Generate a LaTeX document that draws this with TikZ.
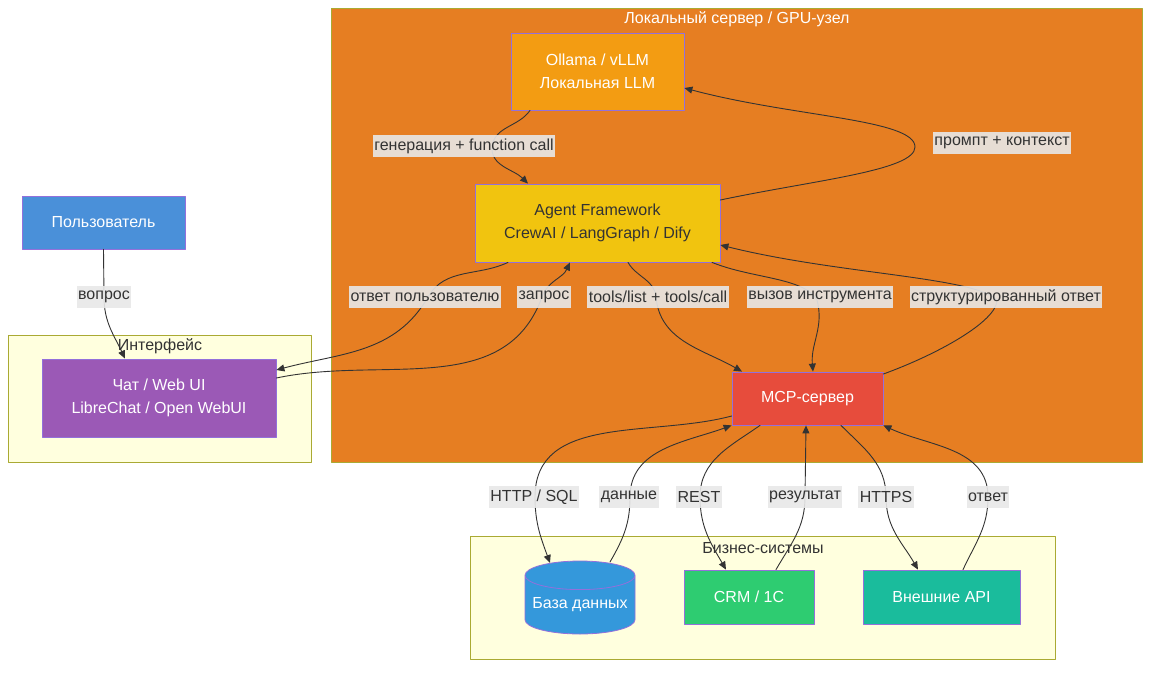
\documentclass[tikz,border=0pt]{standalone}
\usepackage{fontspec}
\setmainfont{Liberation Sans}
\usetikzlibrary{arrows.meta,shapes.geometric}

\definecolor{srvorange}{HTML}{E67E22}
\definecolor{grpyellow}{HTML}{FFFFDE}
\definecolor{grpborder}{HTML}{AAAA33}
\definecolor{nodeborder}{HTML}{9370DB}
\definecolor{darktext}{HTML}{333333}
\definecolor{labelbg}{HTML}{E8E8E8}
\definecolor{ollamaC}{HTML}{F39C12}
\definecolor{agentC}{HTML}{F1C40F}
\definecolor{userC}{HTML}{4A90D9}
\definecolor{chatC}{HTML}{9B59B6}
\definecolor{mcpC}{HTML}{E74C3C}
\definecolor{dbC}{HTML}{3498DB}
\definecolor{crmC}{HTML}{2ECC71}
\definecolor{apiC}{HTML}{1ABC9C}

\begin{document}
\begin{tikzpicture}[x=1pt,y=1pt,line cap=round,line join=round,
  every node/.style={font=\fontsize{16}{23}\selectfont},
  box/.style={draw=nodeborder,line width=0.8pt,align=center,inner sep=0pt},
  grp/.style={draw=grpborder,line width=0.8pt},
  elabel/.style={fill=labelbg,fill opacity=0.9,text opacity=1,text=darktext,
    inner xsep=1.5pt,inner ysep=0pt,minimum height=22pt},
  flow/.style={draw=darktext,line width=0.9pt,-{Triangle[length=8pt,width=7pt]}}]
  \useasboundingbox (0,0) rectangle (1158,-672);

  % groups
  \draw[grp,fill=srvorange] (331,-8) rectangle (1142,-462);
  \node[text=white] (tsrv) at (737,-19) {Локальный сервер / GPU-узел};
  \draw[grp,fill=grpyellow] (8,-335) rectangle (311,-462);
  \draw[grp,fill=grpyellow] (470,-536) rectangle (1055,-659);

  % nodes
  \node[box,fill=ollamaC,text=white,minimum width=173,minimum height=77] (ollama) at (597.5,-71.5) {Ollama / vLLM\\Локальная LLM};
  \node[box,fill=agentC,text=darktext,minimum width=245,minimum height=78] (agent) at (597.5,-223) {Agent Framework\\CrewAI / LangGraph / Dify};
  \node[box,fill=userC,text=white,minimum width=163,minimum height=53] (user) at (103.5,-222.5) {Пользователь};
  \node[box,fill=chatC,text=white,minimum width=234,minimum height=78] (chat) at (159,-398) {Чат / Web UI\\LibreChat / Open WebUI};
  \node[box,fill=mcpC,text=white,minimum width=151,minimum height=53] (mcp) at (807.5,-398.5) {MCP-сервер};
  \node[box,cylinder,shape border rotate=90,aspect=0.3,fill=dbC,text=white,minimum width=110,minimum height=73,anchor=shape center] (db) at (580,-597.5) {База данных};
  \node[box,fill=crmC,text=white,minimum width=130,minimum height=54] (crm) at (749,-597) {CRM / 1C};
  \node[box,fill=apiC,text=white,minimum width=157,minimum height=54] (api) at (941.5,-597) {Внешние API};

  % label points
  \coordinate (cq) at (104,-297);   \coordinate (cans) at (428,-297);
  \coordinate (creq) at (542,-297); \coordinate (ctools) at (656,-297);
  \coordinate (ccall) at (817,-300); \coordinate (cstruct) at (997,-300);
  \coordinate (cgen) at (492,-146); \coordinate (cbend) at (915,-147);
  \coordinate (chttp) at (535,-497); \coordinate (cdata) at (630,-497);
  \coordinate (crest) at (700,-497); \coordinate (cres) at (805,-497);
  \coordinate (chttps) at (886,-497); \coordinate (cansw) at (988,-497);

  % connectors
  \draw[flow] (user.south) -- (cq) to[out=-90,in=115] ([xshift=-34]chat.north);
  \draw[flow] ([yshift=20]chat.east) to[out=12,in=-110] (creq) to[out=70,in=-115] ([xshift=-27.5]agent.south);
  \draw[flow] ([xshift=-89.5]agent.south) to[out=-155,in=60] (cans) to[out=-120,in=15] ([yshift=28]chat.east);
  \draw[flow] ([yshift=23]agent.east) to[out=12,in=-90,out looseness=1.2,in looseness=0.3] (cbend)
    to[out=90,in=-15,out looseness=0.3,in looseness=1.2] ([yshift=-16.5]ollama.east);
  \draw[flow] ([xshift=-67.5]ollama.south) to[out=-125,in=80] (cgen) to[out=-95,in=135] ([xshift=-69.5]agent.north);
  \draw[flow] ([xshift=30.5]agent.south) to[out=-60,in=95] (ctools) to[out=-85,in=150] ([xshift=-65.5]mcp.north);
  \draw[flow] ([xshift=114.5]agent.south) to[out=-22,in=120,in looseness=0.6] (ccall) to[out=-75,in=95] ([xshift=5.5]mcp.north);
  \draw[flow] ([yshift=24.5]mcp.east) to[out=20,in=-90,out looseness=1.1,in looseness=0.4] (cstruct)
    to[out=135,in=-14,out looseness=0.3,in looseness=1.1] ([yshift=-22]agent.east);
  \draw[flow] ([yshift=-17.5]mcp.west) to[out=-165,in=90] (chttp) to[out=-90,in=110] ([xshift=-30,yshift=34.5]db.shape center);
  \draw[flow] ([xshift=30,yshift=35.5]db.shape center) to[out=60,in=-90] (cdata) to[out=90,in=-160] (mcp.south west);
  \draw[flow] ([xshift=-47.5]mcp.south) to[out=-145,in=90] (crest) to[out=-90,in=120] ([xshift=-23]crm.north);
  \draw[flow] ([xshift=27]crm.north) to[out=60,in=-90] (cres) -- ([xshift=-1.5]mcp.south);
  \draw[flow] ([xshift=33.5]mcp.south) to[out=-45,in=90] (chttps) to[out=-90,in=120] ([xshift=-23.5]api.north);
  \draw[flow] ([xshift=21.5]api.north) to[out=65,in=-90] (cansw) to[out=90,in=-25] (mcp.south east);

  % group titles
  \node[text=darktext] (tui) at (160,-346) {Интерфейс};
  \node[text=darktext] (tbiz) at (763,-548) {Бизнес-системы};

  % edge labels
  \node[elabel] (lq) at (104,-297) {вопрос};
  \node[elabel] (lans) at (425,-297) {ответ пользователю};
  \node[elabel] (lreq) at (544,-297) {запрос};
  \node[elabel] (ltools) at (658,-297) {tools/list + tools/call};
  \node[elabel] (lcall) at (820,-297) {вызов инструмента};
  \node[elabel] (lstruct) at (1006,-297) {структурированный ответ};
  \node[elabel] (lgen) at (464,-146) {генерация + function call};
  \node[elabel] (lprompt) at (1002,-143) {промпт + контекст};
  \node[elabel] (lhttp) at (534,-497) {HTTP / SQL};
  \node[elabel] (ldata) at (629,-497) {данные};
  \node[elabel] (lrest) at (699,-497) {REST};
  \node[elabel] (lres) at (805,-497) {результат};
  \node[elabel] (lhttps) at (886,-497) {HTTPS};
  \node[elabel] (lansw) at (988,-497) {ответ};
\end{tikzpicture}
\end{document}
